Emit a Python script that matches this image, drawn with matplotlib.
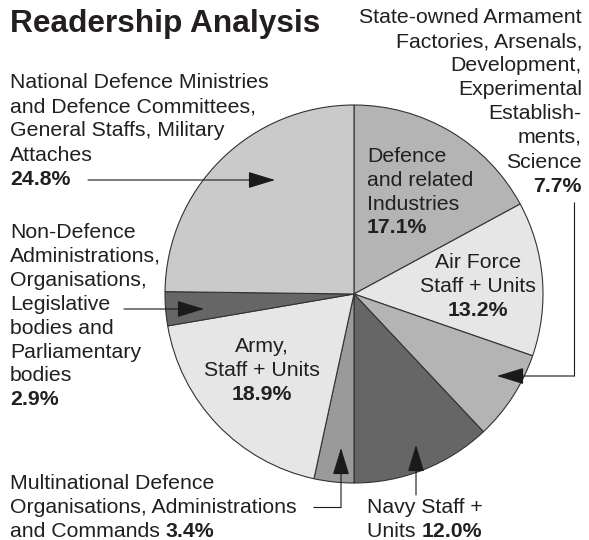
import matplotlib
matplotlib.use("Agg")
import matplotlib.pyplot as plt

plt.rcParams['font.family'] = ['Liberation Sans', 'DejaVu Sans']

# slices, clockwise from 12 o'clock
names = ["Defence and related Industries", "Air Force", "State-owned",
         "Navy", "Multinational", "Army", "Non-Defence", "National Defence"]
shares = [17.1, 13.2, 7.7, 12.0, 3.4, 18.9, 2.9, 24.8]
colors = ["#b4b4b4", "#e6e6e6", "#b4b4b4", "#666666",
          "#9a9a9a", "#e6e6e6", "#666666", "#cacaca"]

title = "Readership Analysis"
txt_col = "#231f20"
fs = 15.3

fig = plt.figure(figsize=(5.89, 5.40), dpi=100)
ax = fig.add_axes([0, 0, 1, 1])

# y axis is inverted (pixel coords), so counterclockwise in data = clockwise on screen
ax.pie(shares, colors=colors, startangle=-90, counterclock=True,
       center=(354, 294), radius=189,
       wedgeprops=dict(edgecolor="#333333", linewidth=0.8))
ax.set_xlim(0, 589)
ax.set_ylim(540, 0)
ax.axis("off")

pct = {n: f"{s:.1f}%" for n, s in zip(names, shares)}


def block(lines, x, y0, step, ha="left"):
    # last line is the bold percentage
    for i, line in enumerate(lines):
        bold = i == len(lines) - 1 and line.endswith("%")
        ax.text(x, y0 + i * step, line, ha=ha, va="baseline", fontsize=fs,
                color=txt_col, fontweight="bold" if bold else "normal")


def mixed(x, y, normal, bold):
    t = ax.text(x, y, normal, ha="left", va="baseline", fontsize=fs, color=txt_col)
    ax.annotate(bold, xy=(1, 0), xycoords=t, ha="left", va="bottom",
                fontsize=fs, fontweight="bold", color=txt_col)


def arrow(points):
    xs = [p[0] for p in points]
    ys = [p[1] for p in points]
    if len(points) > 2:
        ax.plot(xs[:-1], ys[:-1], color="#1a1a1a", lw=0.8, solid_capstyle="butt")
    ax.annotate("", xy=points[-1], xytext=points[-2],
                arrowprops=dict(arrowstyle="-|>,head_length=1.7,head_width=0.52",
                                color="#1a1a1a", lw=0.8, shrinkA=0, shrinkB=0,
                                mutation_scale=10))


ax.text(10, 32, title, fontsize=22.8, fontweight="bold", color=txt_col,
        ha="left", va="baseline")

block(["National Defence Ministries", "and Defence Committees,",
       "General Staffs, Military", "Attaches", pct["National Defence"]],
      10, 88, 24.2)
block(["State-owned Armament", "Factories, Arsenals,", "Development,",
       "Experimental", "Establish-", "ments,", "Science", pct["State-owned"]],
      582, 23, 24.1, ha="right")
block(["Non-Defence", "Administrations,", "Organisations,", "Legislative",
       "bodies and", "Parliamentary", "bodies", pct["Non-Defence"]],
      10, 238, 23.9)
block(["Multinational Defence", "Organisations, Administrations"], 10, 489, 24)
mixed(10, 537, "and Commands ", pct["Multinational"])
block(["Navy Staff +"], 367, 513, 24)
mixed(367, 537, "Units ", pct["Navy"])

# labels inside the pie
block(["Defence", "and related", "Industries", pct["Defence and related Industries"]],
      367, 162, 23.8)
block(["Air Force", "Staff + Units", pct["Air Force"]], 478, 268, 24.2, ha="center")
block(["Army,", "Staff + Units", pct["Army"]], 262, 352, 23.8, ha="center")

arrow([(88, 180), (275, 180)])
arrow([(124, 309), (204, 309)])
arrow([(574, 202), (574, 376), (497, 376)])
arrow([(313, 507), (341, 507), (341, 448)])
arrow([(416, 495), (416, 445)])

fig.savefig("out.png", dpi=100, facecolor="white")
